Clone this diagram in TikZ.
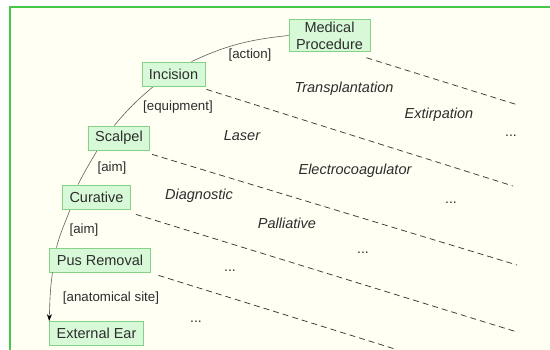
\documentclass[tikz,border=0pt]{standalone}
\usepackage{fontspec}
\setmainfont{Liberation Sans}
\usetikzlibrary{arrows.meta,backgrounds}
\definecolor{framec}{RGB}{70,200,70}
\definecolor{bgc}{RGB}{255,255,244}
\definecolor{boxfill}{RGB}{216,249,216}
\definecolor{boxdraw}{RGB}{135,208,135}
\definecolor{txt}{RGB}{45,45,45}
\begin{document}
\begin{tikzpicture}[x=1pt,y=1pt,
  concept/.style={draw=boxdraw, fill=boxfill, line width=0.8pt, inner xsep=7pt, inner ysep=2pt,
    minimum height=24pt, text=txt, font=\fontsize{14.5}{17}\selectfont, align=center},
  rel/.style={text=txt, font=\fontsize{13.3}{15}\selectfont, inner sep=0pt},
  inst/.style={text=txt, font=\fontsize{14.5}{17}\selectfont\itshape, inner sep=0pt},
  more/.style={text=txt, font=\fontsize{14}{16}\selectfont, inner sep=0pt, anchor=base},
  curve/.style={draw=gray!75!black, line width=0.6pt},
  sep/.style={draw=gray!45!black, line width=0.75pt, dash pattern=on 6pt off 4pt}]
\useasboundingbox (0,0) rectangle (550,-350);
\begin{scope}[on background layer]
  \fill[white] (0,0) rectangle (550,-350);
  \fill[bgc] (10,-7) rectangle (550,-350);
  \draw[framec, line width=1.5pt] (10,-350) -- (10,-7) -- (550,-7);
\end{scope}

% concepts
\node[concept] (mp)  at (329.5,-35.5) {Medical\\Procedure};
\node[concept] (inc) at (173.5,-74)   {Incision};
\node[concept] (sc)  at (119,-138)    {Scalpel};
\node[concept] (cur) at (96.5,-197)   {Curative};
\node[concept] (pus) at (100,-260)    {Pus Removal};
\node[concept] (ear) at (96.5,-333.5) {External Ear};

% relation labels
\node[rel] (l1) at (250,-55)  {[action]};
\node[rel] (l2) at (178,-107) {[equipment]};
\node[rel] (l3) at (112,-168) {[aim]};
\node[rel] (l4) at (84,-230)  {[aim]};
\node[rel] (l5) at (111,-298) {[anatomical site]};

% instances
\node[inst] (t1) at (344,-89)  {Transplantation};
\node[inst] (t2) at (439,-115) {Extirpation};
\node[inst] (t3) at (242,-136) {Laser};
\node[inst] (t4) at (355,-171) {Electrocoagulator};
\node[inst] (t5) at (199,-196) {Diagnostic};
\node[inst] (t6) at (287,-223) {Palliative};
\node[more] (d1) at (511,-137) {...};
\node[more] (d2) at (451,-204) {...};
\node[more] (d3) at (363,-254) {...};
\node[more] (d4) at (230,-272) {...};
\node[more] (d5) at (196,-323) {...};

% separators
\coordinate (e1) at (518,-105);
\coordinate (e2) at (513,-186);
\coordinate (e3) at (517,-265);
\coordinate (e4) at (517,-332);
\coordinate (e5) at (395,-349);
\draw[sep] ([shift={(-4,-6)}]mp.south east) -- (e1);
\draw[sep] ([shift={(1,-3)}]inc.south east) -- (e2);
\draw[sep] ([shift={(2,-4)}]sc.south east) -- (e3);
\draw[sep] ([shift={(5,-5)}]cur.south east) -- (e4);
\draw[sep] ([shift={(8,-3)}]pus.south east) -- (e5);

% the chain
\begin{scope}[on background layer]
\draw[curve] (mp.west) to[out=186,in=25] ([xshift=-14pt]inc.north east);
\draw[curve] ([xshift=-52pt]inc.south east) to[out=220,in=50] ([xshift=-36pt]sc.north east);
\draw[curve] ([xshift=-53pt]sc.south east) to[out=240,in=64] ([xshift=16pt]cur.north west);
\draw[curve] ([xshift=8pt]cur.south west) to[out=250,in=76] ([xshift=7pt]pus.north west);
\end{scope}
\draw[curve, -{Stealth[length=7pt,width=5pt,color=black]}] ([xshift=3pt]pus.south west) to[out=262,in=88] (ear.north west);
\end{tikzpicture}
\end{document}
